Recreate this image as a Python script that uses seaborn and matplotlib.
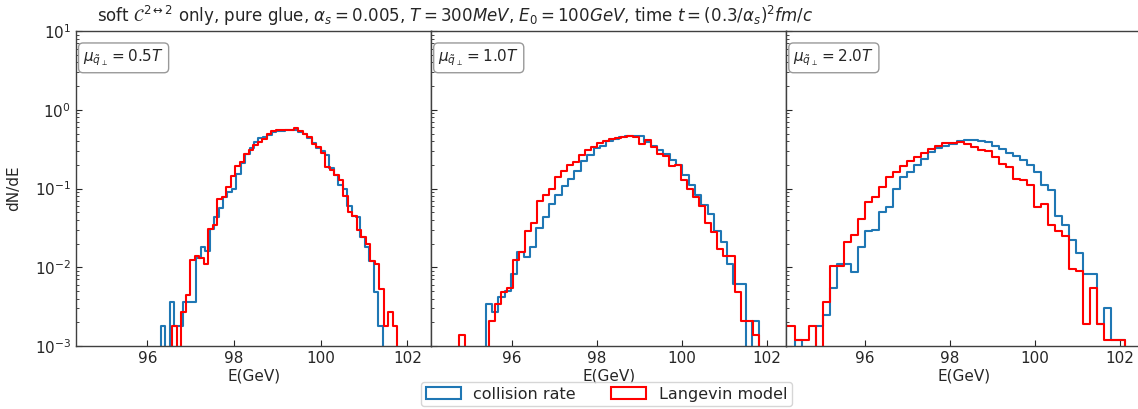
import numpy as np
import pandas as pd
import matplotlib
matplotlib.use("Agg")
import matplotlib.pyplot as plt
from matplotlib.patches import Patch
import seaborn as sns

# ---- data ----
PANEL_LABELS = [r"$\mu_{\tilde{q}_\perp} = 0.5T$",
                r"$\mu_{\tilde{q}_\perp} = 1.0T$",
                r"$\mu_{\tilde{q}_\perp} = 2.0T$"]
SERIES_NAMES = ["collision rate", "Langevin model"]
X_TICKS = [96, 98, 100, 102]
X_LIMITS = [(94.35, 102.55), (94.1, 102.45), (94.15, 102.5)]

# binning of each histogram: first edge and bin width (GeV)
rate_lo = [96.31, 95.38, 93.85]
rate_width = [0.1024, 0.1493, 0.1655]
lang_lo = [96.57, 94.75, 93.85]
lang_width = [0.104, 0.141, 0.1655]

# dN/dE per bin, mu = 0.5T
rate_05 = [0.0018, 0, 0.0036, 0.0018, 0.0018, 0.0036, 0.0036, 0.0036, 0.013, 0.018,
           0.016, 0.031, 0.043, 0.056, 0.077, 0.09, 0.10, 0.155, 0.21, 0.275,
           0.33, 0.395, 0.435, 0.45, 0.48, 0.53, 0.54, 0.54, 0.55, 0.55,
           0.56, 0.52, 0.49, 0.44, 0.38, 0.33, 0.30, 0.27, 0.18, 0.15,
           0.11, 0.10, 0.06, 0.045, 0.043, 0.024, 0.018, 0.012, 0.0048, 0.0018]
lang_05 = [0.0018, 0, 0.0027, 0.0045, 0.0124, 0.014, 0.013, 0.011, 0.031, 0.034,
           0.074, 0.078, 0.104, 0.146, 0.196, 0.216, 0.276, 0.31, 0.36, 0.39,
           0.43, 0.50, 0.54, 0.55, 0.55, 0.56, 0.56, 0.59, 0.54, 0.50,
           0.45, 0.37, 0.335, 0.28, 0.19, 0.17, 0.15, 0.13, 0.08, 0.05,
           0.045, 0.03, 0.024, 0.02, 0.012, 0.011, 0.0053, 0.0018, 0.0027, 0.0018]

# mu = 1.0T
rate_10 = [0.0034, 0.0027, 0.0042, 0.005, 0.0082, 0.0156, 0.0134, 0.018, 0.032, 0.043,
           0.064, 0.084, 0.109, 0.133, 0.166, 0.227, 0.27, 0.325, 0.35, 0.40,
           0.43, 0.45, 0.46, 0.47, 0.46, 0.39, 0.35, 0.31, 0.275, 0.23,
           0.20, 0.15, 0.11, 0.084, 0.062, 0.048, 0.029, 0.021, 0.011, 0.0062,
           0.0062, 0, 0.0021]
lang_10 = [0.0014, 0, 0, 0, 0, 0.0021, 0.0034, 0.0048, 0.0055, 0.0124,
           0.0155, 0.029, 0.037, 0.07, 0.084, 0.10, 0.14, 0.166, 0.20, 0.22,
           0.27, 0.31, 0.34, 0.377, 0.40, 0.42, 0.44, 0.45, 0.46, 0.45,
           0.37, 0.41, 0.335, 0.276, 0.26, 0.196, 0.20, 0.13, 0.10, 0.078,
           0.06, 0.036, 0.028, 0.017, 0.014, 0.014, 0.0048, 0.0021, 0.0021, 0.0014]

# mu = 2.0T
rate_20 = [0, 0, 0, 0.0012, 0, 0, 0.0018, 0.0025, 0.0055, 0.011,
           0.011, 0.0087, 0.018, 0.029, 0.03, 0.05, 0.058, 0.10, 0.14, 0.16,
           0.20, 0.24, 0.29, 0.33, 0.35, 0.37, 0.40, 0.41, 0.41, 0.40,
           0.39, 0.35, 0.32, 0.28, 0.26, 0.23, 0.20, 0.16, 0.11, 0.095,
           0.045, 0.034, 0.022, 0.015, 0.0082, 0.0082, 0.0019, 0.003, 0.0012, 0.0012]
lang_20 = [0.0012, 0.0018, 0.0018, 0.0012, 0.0012, 0.0018, 0, 0.0036, 0.0103, 0.0103,
           0.021, 0.026, 0.041, 0.067, 0.078, 0.106, 0.139, 0.16, 0.196, 0.227,
           0.25, 0.28, 0.32, 0.35, 0.38, 0.38, 0.39, 0.37, 0.335, 0.31,
           0.30, 0.25, 0.206, 0.19, 0.133, 0.13, 0.11, 0.058, 0.064, 0.034,
           0.029, 0.025, 0.0095, 0.009, 0.0019, 0.0054, 0.0019, 0.0012, 0.0012, 0.0012]

rate_all = [rate_05, rate_10, rate_20]
lang_all = [lang_05, lang_10, lang_20]

BLUE = "#1f77b4"
RED = "#ff0000"

sns.set_style("ticks")
plt.rcParams["font.family"] = ["DejaVu Sans"]
plt.rcParams["mathtext.fontset"] = "dejavusans"


def draw_hist(ax, lo, width, values, color):
    # pad with an empty bin on each side so the outline drops to the floor
    vals = np.concatenate([[0.0], np.asarray(values, dtype=float), [0.0]])
    edges = lo - width + width * np.arange(len(vals) + 1)
    centers = 0.5 * (edges[:-1] + edges[1:])
    df = pd.DataFrame({"E": centers, "w": vals})
    sns.histplot(data=df, x="E", weights="w", bins=list(edges), element="step",
                 fill=False, color=color, linewidth=1.5, ax=ax)


fig, axes = plt.subplots(1, 3, figsize=(11.38, 4.09), dpi=100, sharey=True)
fig.subplots_adjust(left=0.0668, right=1.003, bottom=0.154, top=0.924, wspace=0)

for i, ax in enumerate(axes):
    draw_hist(ax, rate_lo[i], rate_width[i], rate_all[i], BLUE)
    draw_hist(ax, lang_lo[i], lang_width[i], lang_all[i], RED)
    ax.set_yscale("log")
    ax.set_ylim(1e-3, 10)
    ax.set_xlim(*X_LIMITS[i])
    ax.set_xticks(X_TICKS)
    ax.set_xlabel("E(GeV)", fontsize=11, labelpad=2)
    ax.set_ylabel("")
    ax.tick_params(which="both", direction="in", labelsize=11)
    ax.tick_params(which="major", length=4)
    ax.tick_params(which="minor", length=2)
    for s in ax.spines.values():
        s.set_color("0.25")
        s.set_linewidth(1.0)
    ax.text(0.02, 0.915, PANEL_LABELS[i], transform=ax.transAxes,
            fontsize=11, va="center", ha="left",
            bbox=dict(boxstyle="round,pad=0.3", facecolor="white", edgecolor="0.6"))

axes[0].set_ylabel("dN/dE", fontsize=11)
axes[0].yaxis.set_label_coords(-0.155, 0.5)

fig.text(0.085, 0.962,
         r"soft $\mathcal{C}^{2\leftrightarrow 2}$ only, pure glue, $\alpha_s = 0.005$, "
         r"$T = 300MeV$, $E_0 = 100GeV$, time $t = (0.3/\alpha_s)^2 fm/c$",
         fontsize=12, ha="left", va="center")

handles = [Patch(facecolor="none", edgecolor=BLUE, linewidth=1.5),
           Patch(facecolor="none", edgecolor=RED, linewidth=1.5)]
fig.legend(handles, SERIES_NAMES, loc="lower center", ncol=2,
           bbox_to_anchor=(0.533, -0.013), fontsize=11.5, frameon=True,
           fancybox=True, edgecolor="0.8", borderpad=0.3,
           handlelength=2.2, columnspacing=2.2)

fig.savefig("out.png", dpi=100)
